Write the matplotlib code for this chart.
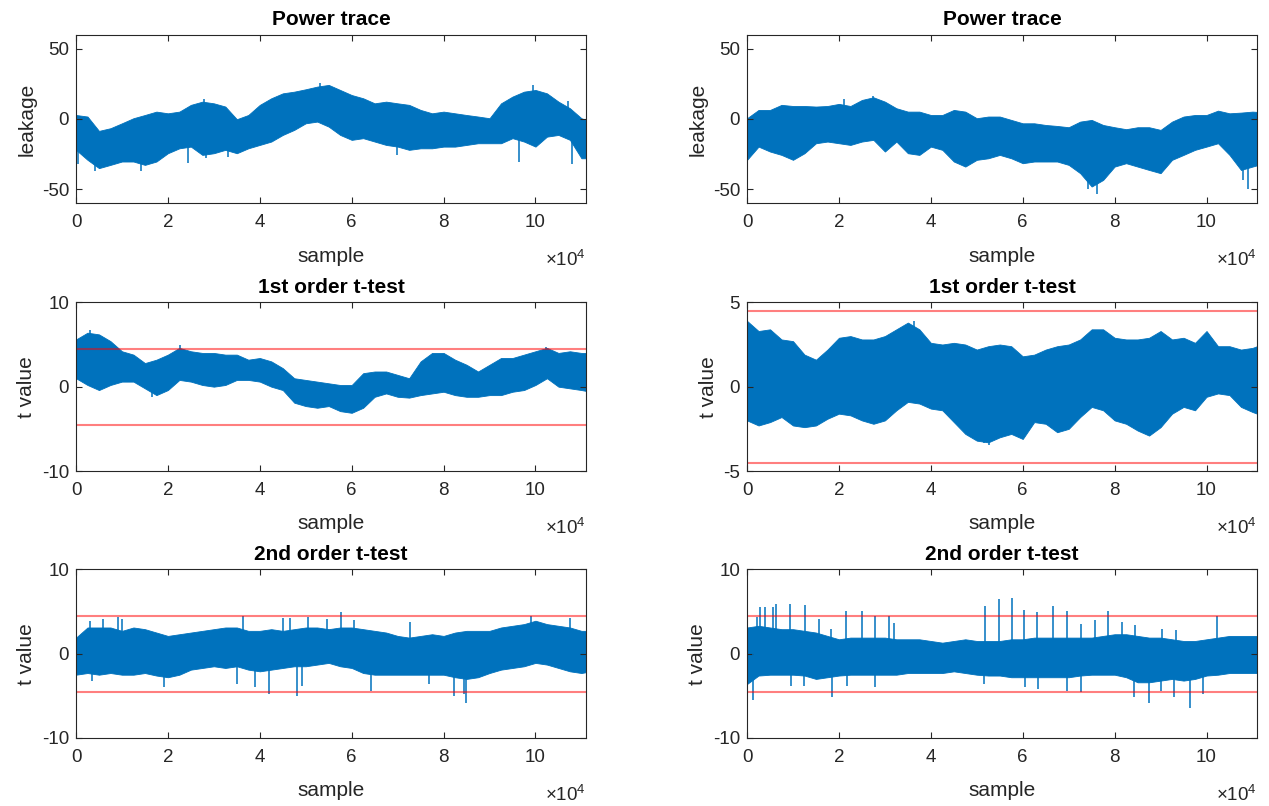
import matplotlib
matplotlib.use('Agg')
import matplotlib.pyplot as plt
import numpy as np

plt.rcParams['font.family'] = ['Liberation Sans', 'DejaVu Sans']
plt.rcParams['axes.unicode_minus'] = False
plt.rcParams['mathtext.fontset'] = 'custom'
plt.rcParams['mathtext.rm'] = 'Liberation Sans'

# positions (in samples) where the envelope of each trace was read
sample_pos = np.append(np.arange(0, 110001, 2500), 111000)

# power trace, left
pw_left_hi = [2.8, 1.7, -8.5, -6.6, -3.1, 0.5, 2.8, 5.2, 4.0, 5.2, 10.0, 12.3, 11.1, 8.8, -0.2,
              2.8, 10.0, 14.7, 18.2, 19.4, 21.1, 23.0, 24.2, 20.6, 17.0, 14.7, 11.1, 12.3, 11.1, 10.0,
              6.4, 4.0, 5.2, 4.0, 2.8, 1.7, 0.5, 11.1, 15.9, 19.4, 20.6, 18.2, 12.3, 7.6, 0.5, -0.7]
pw_left_lo = [-22.0, -29.1, -35.0, -32.7, -30.3, -30.3, -32.7, -30.3, -24.4, -20.9, -19.7, -25.6,
              -24.4, -22.0, -24.4, -20.9, -18.5, -16.1, -11.4, -7.8, -3.1, -1.9, -5.5, -11.4, -14.9,
              -13.7, -16.1, -18.5, -19.7, -22.0, -20.9, -20.9, -19.7, -19.7, -18.5, -17.3, -17.3,
              -17.3, -13.7, -16.1, -19.7, -12.6, -11.4, -14.9, -28.0, -28.0]
pw_left_spk_x = [500, 4130, 14065, 24430, 28200, 33130, 69890, 96425, 107950, 27910, 53070, 99470, 107010]
pw_left_spk_y = [-32, -36.7, -37, -31, -28, -26.8, -26, -30.3, -32, 14, 25.4, 24.2, 13]

# power trace, right
pw_right_hi = [0.5, 6.4, 6.4, 10.0, 9.2, 9.2, 8.8, 9.2, 10.7, 9.2, 13.5, 15.4, 12.3, 7.6, 5.2, 5.2,
               2.8, 2.8, 6.4, 5.2, 0.5, 1.7, 1.7, -0.7, -3.1, -3.1, -4.3, -5.0, -5.9, -1.9, -0.7,
               -4.3, -5.9, -7.3, -5.9, -5.9, -7.8, -1.9, 1.7, 2.8, 2.8, 5.9, 4.0, 4.5, 5.2, 5.0]
pw_right_lo = [-29.1, -19.7, -23.2, -25.6, -29.1, -24.4, -17.3, -16.1, -17.3, -18.5, -16.1, -14.9,
               -23.2, -16.1, -24.4, -25.6, -19.7, -22.0, -30.3, -33.9, -29.1, -28.0, -25.6, -28.0,
               -31.5, -30.3, -30.3, -30.3, -32.7, -38.6, -48.1, -43.4, -33.9, -31.5, -33.9, -36.3,
               -38.6, -29.1, -25.6, -22.0, -19.7, -17.3, -25.6, -36.3, -33.9, -33.0]
pw_right_spk_x = [76125, 74170, 108970, 107880, 21100, 27400]
pw_right_spk_y = [-53.3, -50, -50, -43.4, 14, 16.4]

# 1st order t-test, left
t1_left_hi = [5.6, 6.4, 6.2, 5.4, 4.2, 3.8, 2.8, 3.2, 3.8, 4.6, 4.2, 4.0, 4.0, 3.8, 3.8, 3.2, 3.4,
              3.0, 2.2, 1.0, 0.8, 0.6, 0.4, 0.2, 0.2, 1.6, 1.8, 1.8, 1.4, 1.0, 3.0, 4.0, 4.0, 3.2,
              2.6, 1.8, 2.6, 3.4, 3.4, 3.8, 4.2, 4.6, 4.0, 4.2, 4.0, 4.0]
t1_left_lo = [1.0, 0.2, -0.4, 0.2, 0.6, 0.6, -0.2, -1.0, -0.4, 0.8, 0.6, 0.2, 0.0, 0.2, 0.8, 0.8,
              0.6, 0.0, -0.4, -1.9, -2.3, -2.5, -2.3, -2.9, -3.1, -2.5, -1.2, -0.8, -1.2, -1.3,
              -1.0, -0.8, -0.6, -1.0, -1.2, -1.2, -1.0, -1.0, -0.6, -0.4, 0.2, 1.0, 0.0, -0.2,
              -0.4, -0.5]
t1_left_spk_x = [3045, 22620, 102370, 16460]
t1_left_spk_y = [6.7, 5.0, 4.7, -1.2]

# 1st order t-test, right
t1_right_hi = [3.9, 3.3, 3.4, 2.8, 2.7, 1.9, 1.6, 2.2, 2.9, 3.0, 2.8, 2.8, 3.0, 3.4, 3.8, 3.4, 2.6,
               2.5, 2.6, 2.5, 2.2, 2.4, 2.5, 2.4, 1.8, 1.9, 2.2, 2.4, 2.5, 2.8, 3.4, 3.4, 2.9, 2.8,
               2.8, 2.9, 3.3, 2.8, 2.9, 2.6, 3.3, 2.4, 2.4, 2.2, 2.3, 2.4]
t1_right_lo = [-2.0, -2.3, -2.1, -1.8, -2.3, -2.4, -2.3, -1.9, -1.6, -1.7, -2.0, -2.2, -2.0, -1.4,
               -0.9, -1.0, -1.3, -1.4, -2.1, -2.8, -3.2, -3.3, -3.0, -2.8, -3.1, -2.1, -2.2, -2.7,
               -2.5, -1.8, -1.2, -1.4, -2.0, -2.2, -2.6, -2.9, -2.4, -1.6, -1.2, -1.4, -0.6, -0.4,
               -0.5, -1.2, -1.5, -1.6]
t1_right_spk_x = [36320, 51550, 52635]
t1_right_spk_y = [3.9, -3.35, -3.45]

# 2nd order t-test, left
t2_left_hi = [1.9, 3.1, 3.1, 3.1, 2.7, 3.1, 2.9, 2.5, 2.1, 2.3, 2.5, 2.7, 2.9, 3.1, 3.1, 2.7, 2.7,
              2.9, 2.7, 2.9, 3.1, 3.1, 2.9, 3.1, 3.1, 2.9, 2.7, 2.5, 2.1, 1.9, 2.1, 2.3, 2.1, 2.5,
              2.7, 2.7, 2.7, 3.1, 3.3, 3.5, 3.9, 3.5, 3.3, 3.1, 2.7, 2.7]
t2_left_lo = [-2.5, -2.3, -2.5, -2.3, -2.5, -2.5, -2.3, -2.6, -2.8, -2.5, -1.9, -1.7, -1.5, -1.7,
              -1.5, -1.9, -2.1, -1.9, -1.7, -1.5, -1.5, -1.3, -1.1, -1.5, -1.7, -2.3, -2.5, -2.5,
              -2.5, -2.5, -2.5, -2.5, -2.5, -2.8, -3.0, -2.8, -2.3, -1.9, -1.7, -1.5, -1.1, -1.3,
              -1.7, -2.1, -2.3, -2.2]
t2_left_spk_x = [3045, 5945, 9210, 9930, 36250, 45100, 46545, 50390, 54520, 57780, 60540, 72645,
                 99110, 107445, 3410, 19210, 34945, 38930, 42050, 48000, 49080, 64160, 76780,
                 82215, 84970, 84460]
t2_left_spk_y = [3.9, 4.1, 4.3, 4.1, 4.5, 4.2, 4.2, 4.4, 4.1, 4.9, 4.0, 3.8, 4.5, 4.2,
                 -3.2, -4.0, -3.6, -4.0, -4.8, -5.0, -3.8, -4.4, -3.6, -5.0, -5.9, -4.8]

# 2nd order t-test, right
t2_right_hi = [3.1, 3.3, 3.1, 2.9, 2.9, 2.7, 2.5, 2.1, 1.7, 1.9, 1.9, 1.9, 1.9, 1.7, 1.7, 1.7, 1.5,
               1.3, 1.5, 1.7, 1.5, 1.5, 1.5, 1.7, 1.7, 1.9, 1.9, 1.9, 1.9, 1.9, 1.9, 2.1, 2.3, 2.3,
               2.1, 1.9, 1.9, 1.7, 1.5, 1.5, 1.7, 1.9, 2.1, 2.1, 2.1, 2.1]
t2_right_lo = [-3.6, -2.6, -2.5, -2.5, -2.5, -2.6, -3.0, -2.8, -2.6, -2.5, -2.5, -2.5, -2.5, -2.5,
               -2.3, -2.3, -2.3, -2.3, -2.1, -2.3, -2.5, -2.6, -2.6, -2.8, -2.8, -2.8, -2.8, -2.8,
               -2.8, -2.6, -2.5, -2.5, -2.5, -2.8, -3.4, -3.4, -3.2, -3.0, -3.2, -3.0, -2.6, -2.5,
               -2.3, -2.3, -2.3, -2.3]
t2_right_spk_x = [2175, 2900, 3840, 5655, 6380, 9280, 12540, 15590, 18340, 21460, 25085, 27770,
                  30885, 31970, 51690, 54740, 57565, 60175, 63150, 66555, 69670, 72720, 75835,
                  78660, 81560, 84535, 90335, 93380, 102300,
                  1305, 9640, 12400, 18560, 21820, 27770, 51550, 60390, 63290, 69670, 72720,
                  84320, 87435, 90120, 93020, 96425, 99325]
t2_right_spk_y = [4.3, 5.5, 5.5, 5.5, 5.9, 5.9, 5.8, 4.1, 2.9, 5.1, 5.0, 4.5, 4.5, 3.6, 5.7, 6.5,
                  6.6, 5.2, 4.9, 5.6, 5.0, 3.5, 4.0, 5.0, 3.8, 3.4, 2.9, 2.8, 4.5,
                  -5.5, -3.8, -3.8, -5.1, -3.8, -4.0, -3.6, -4.0, -4.2, -4.4, -4.5, -5.1, -5.9,
                  -4.4, -5.2, -6.4, -4.8]

threshold = 4.5

BLUE = '#0072BD'
DARK = '#262626'


def draw_panel(ax, hi, lo, spk_x, spk_y, ylim, yticks, title, ylabel, thresh=None):
    hi = np.asarray(hi)
    lo = np.asarray(lo)
    ax.fill_between(sample_pos, lo, hi, color=BLUE, lw=0.6, edgecolor=BLUE)
    # short excursions standing out of the dense trace
    base = np.interp(spk_x, sample_pos, (hi + lo) / 2)
    ax.vlines(spk_x, base, spk_y, color=BLUE, lw=1.1)
    if thresh is not None:
        ax.axhline(thresh, color='red', alpha=0.5, lw=1.5)
        ax.axhline(-thresh, color='red', alpha=0.5, lw=1.5)

    ax.set_xlim(0, 111000)
    ax.set_ylim(*ylim)
    ax.set_yticks(yticks)
    ax.set_xticks(np.arange(0, 110001, 20000))
    ax.set_xticklabels([str(v) for v in range(0, 11, 2)])
    ax.tick_params(direction='in', length=4, width=0.8, top=True, right=True,
                   labelsize=13.5, colors=DARK)
    ax.tick_params(axis='x', pad=8)
    ax.tick_params(axis='y', pad=5)
    for sp in ax.spines.values():
        sp.set_color(DARK)
        sp.set_linewidth(0.8)
    ax.set_title(title, fontsize=15, fontweight='bold', color='black', pad=7)
    ax.set_xlabel('sample', fontsize=15, color=DARK, labelpad=11)
    ax.set_ylabel(ylabel, fontsize=15, color=DARK, labelpad=4)
    ax.text(1.0, -0.335, r'$\times$10$^{4}$', transform=ax.transAxes, ha='right',
            va='center', fontsize=13.5, color=DARK)


fig = plt.figure(figsize=(12.69, 8.06), dpi=100)

col_x = [0.0599, 0.5887]
row_y = [0.7478, 0.4156, 0.0844]
w, h = 0.4019, 0.2093

panels = [
    (pw_left_hi, pw_left_lo, pw_left_spk_x, pw_left_spk_y, (-60, 60), [-50, 0, 50], 'Power trace', 'leakage', None),
    (pw_right_hi, pw_right_lo, pw_right_spk_x, pw_right_spk_y, (-60, 60), [-50, 0, 50], 'Power trace', 'leakage', None),
    (t1_left_hi, t1_left_lo, t1_left_spk_x, t1_left_spk_y, (-10, 10), [-10, 0, 10], '1st order t-test', 't value', threshold),
    (t1_right_hi, t1_right_lo, t1_right_spk_x, t1_right_spk_y, (-5, 5), [-5, 0, 5], '1st order t-test', 't value', threshold),
    (t2_left_hi, t2_left_lo, t2_left_spk_x, t2_left_spk_y, (-10, 10), [-10, 0, 10], '2nd order t-test', 't value', threshold),
    (t2_right_hi, t2_right_lo, t2_right_spk_x, t2_right_spk_y, (-10, 10), [-10, 0, 10], '2nd order t-test', 't value', threshold),
]

for i, p in enumerate(panels):
    r, c = divmod(i, 2)
    ax = fig.add_axes([col_x[c], row_y[r], w, h])
    draw_panel(ax, *p)

fig.savefig('out.png', dpi=100)
